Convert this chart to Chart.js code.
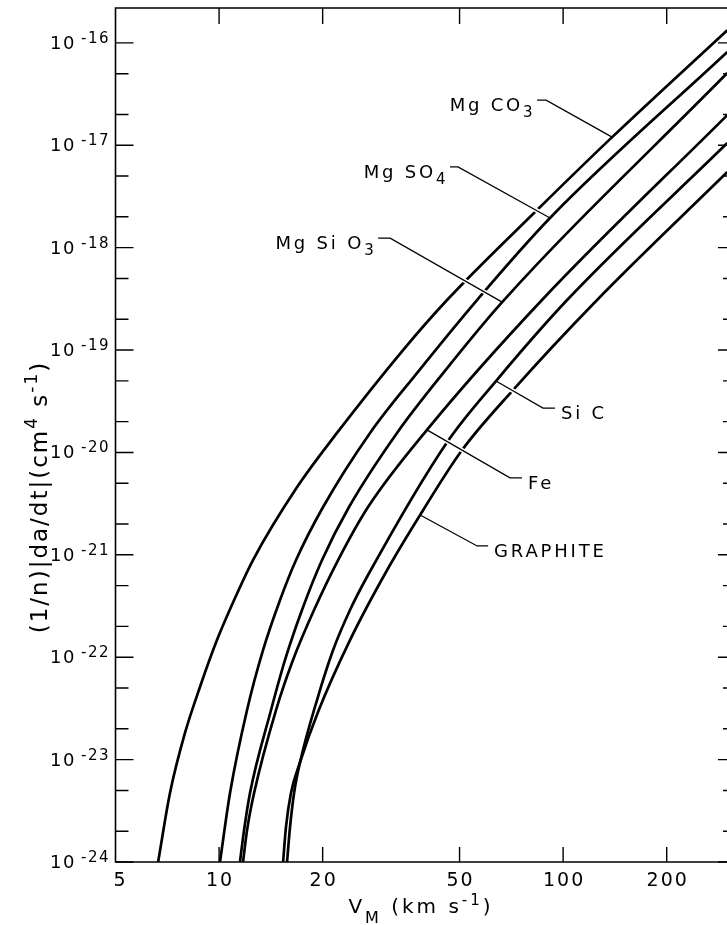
<!DOCTYPE html>
<html><head><meta charset="utf-8">
<script src="https://cdn.jsdelivr.net/npm/chart.js@4.4.0/dist/chart.umd.min.js"></script>
<style>
html,body{margin:0;padding:0;background:#fff;overflow:hidden}
#wrap{position:relative;width:727px;height:925px;overflow:hidden}
canvas{display:block}
</style>
</head><body>
<div id="wrap"><canvas id="c" width="745" height="925"></canvas></div>
<script>
// ---- data ----
const xTickValues = [5, 10, 20, 50, 100, 200];
const yTickExponents = [-24, -23, -22, -21, -20, -19, -18, -17, -16];

const mgco3V = [6.65, 7.20, 7.96, 8.80, 9.86, 11.06, 12.55, 16.86, 22.02, 34.26, 45.99, 84.0, 138.8, 300];
const mgco3Y = [1e-24, 4.72e-24, 1.82e-23, 5.12e-23, 1.47e-22, 3.62e-22, 8.89e-22, 4.59e-21, 1.55e-20, 1.0e-19, 3.08e-19, 2.33e-18, 1.20e-17, 1.33e-16];

const mgso4V = [10.06, 10.76, 12.06, 13.42, 15.04, 16.74, 20.06, 27.47, 37.6, 56.2, 91.6, 300];
const mgso4Y = [1e-24, 4.72e-24, 3.05e-23, 1.17e-22, 3.62e-22, 8.89e-22, 2.93e-21, 1.55e-20, 5.96e-20, 3.08e-19, 1.95e-18, 8.13e-17];

const mgsio3V = [11.50, 11.82, 12.30, 14.16, 15.55, 17.42, 19.92, 23.86, 32.9, 44.8, 66.5, 300];
const mgsio3Y = [1e-24, 2.05e-24, 4.72e-24, 3.05e-23, 9.40e-23, 2.89e-22, 8.89e-22, 2.93e-21, 1.55e-20, 5.96e-20, 2.94e-19, 5.07e-17];

const feV = [11.74, 12.06, 12.64, 14.64, 16.40, 18.88, 22.18, 27.1, 40.2, 86.8, 300];
const feY = [1e-24, 2.05e-24, 4.72e-24, 3.05e-23, 9.40e-23, 2.89e-22, 8.89e-22, 2.93e-21, 1.66e-20, 3.08e-19, 1.97e-17];

const sicV = [15.76, 16.08, 16.52, 17.20, 19.26, 21.44, 24.02, 27.1, 46.0, 63.8, 102.7, 300];
const sicY = [1e-24, 2.20e-24, 4.72e-24, 9.48e-24, 3.82e-23, 1.17e-22, 2.89e-22, 6.35e-22, 1.26e-20, 4.98e-20, 3.08e-19, 1.05e-17];

const graphiteV = [15.35, 15.65, 16.18, 17.20, 19.39, 24.02, 30.8, 38.4, 50.8, 71.5, 125.5, 300];
const graphiteY = [1e-24, 2.20e-24, 4.72e-24, 9.48e-24, 2.92e-23, 1.47e-22, 7.11e-22, 2.45e-21, 1.05e-20, 4.06e-20, 3.08e-19, 5.47e-18];

const seriesNames = ['MgCO3', 'MgSO4', 'MgSiO3', 'Fe', 'SiC', 'GRAPHITE'];
const seriesV = [mgco3V, mgso4V, mgsio3V, feV, sicV, graphiteV];
const seriesY = [mgco3Y, mgso4Y, mgsio3Y, feY, sicY, graphiteY];

const xMin = 5, xMax = 318, yMin = 1e-24, yMax = 2.19e-16;

// label anchors on curves (data coords) and leader geometry
const labelDefs = [
  {runs:[['Mg',0],[' CO',0],['3',1]], v:138.8, y:1.20e-17, elbow:[-66,-37], dash:-9},
  {runs:[['Mg',0],[' SO',0],['4',1]], v:91.6, y:1.95e-18, elbow:[-92,-51], dash:-8},
  {runs:[['Mg',0],[' Si',0],[' O',0],['3',1]], v:66.5, y:2.94e-19, elbow:[-112,-64], dash:-12},
  {runs:[['Si C',0]], v:63.8, y:4.98e-20, elbow:[47,27], dash:12},
  {runs:[['Fe',0]], v:40.2, y:1.66e-20, elbow:[83,48], dash:12},
  {runs:[['GRAPHITE',0]], v:38.4, y:2.45e-21, elbow:[57,31], dash:11}
];

const FONT = '"DejaVu Sans", "Liberation Sans", sans-serif';
function setFont(ctx, size, sp){
  ctx.font = size + 'px ' + FONT;
  if ('letterSpacing' in ctx) ctx.letterSpacing = (sp||0) + 'px';
}
function runsWidth(ctx, runs){
  let w = 0;
  for (const r of runs){ setFont(ctx, r.size, r.sp); w += ctx.measureText(r.t).width; }
  return w;
}
function drawRuns(ctx, runs, x, y){
  let cx = x;
  for (const r of runs){
    setFont(ctx, r.size, r.sp);
    ctx.fillText(r.t, cx, y + (r.dy||0));
    cx += ctx.measureText(r.t).width;
  }
  return cx;
}

const decorPlugin = {
  id: 'decor',
  afterDatasetsDraw(chart){
    const ctx = chart.ctx, a = chart.chartArea, xs = chart.scales.x, ys = chart.scales.y;
    ctx.save();
    ctx.fillStyle = '#000';
    ctx.strokeStyle = '#000';
    ctx.textAlign = 'left';
    ctx.textBaseline = 'alphabetic';

    // leader lines + labels
    for (const d of labelDefs){
      const tx = xs.getPixelForValue(d.v), ty = ys.getPixelForValue(d.y);
      const ex = tx + d.elbow[0], ey = ty + d.elbow[1];
      const dx = ex + d.dash;
      const L = Math.hypot(d.elbow[0], d.elbow[1]);
      const ux = d.elbow[0]/L, uy = d.elbow[1]/L;
      ctx.strokeStyle = '#fff'; ctx.lineWidth = 4.5; ctx.lineCap = 'butt';
      ctx.beginPath(); ctx.moveTo(tx + ux*8, ty + uy*8); ctx.lineTo(ex, ey); ctx.stroke();
      ctx.strokeStyle = '#000'; ctx.lineWidth = 1.3;
      ctx.beginPath(); ctx.moveTo(tx, ty); ctx.lineTo(ex, ey); ctx.lineTo(dx, ey); ctx.stroke();
      const runs = d.runs.map(r => r[1] ? {t:r[0], size:15, sp:1.5, dy:6} : {t:r[0], size:18, sp:2.8, dy:0});
      const w = runsWidth(ctx, runs);
      const bx = d.dash < 0 ? dx - 3 - w : dx + 6;
      drawRuns(ctx, runs, bx, ey + 11);
    }

    // frame
    ctx.strokeStyle = '#000';
    ctx.lineWidth = 1.6;
    ctx.beginPath();
    ctx.moveTo(a.right, a.top); ctx.lineTo(a.left, a.top);
    ctx.lineTo(a.left, a.bottom); ctx.lineTo(a.right, a.bottom);
    ctx.stroke();

    // y ticks (both sides, inward)
    ctx.lineWidth = 1.4;
    for (const e of yTickExponents){
      for (const m of [1, 2, 5]){
        if (m !== 1 && e >= -16) continue;
        const py = ys.getPixelForValue(m * Math.pow(10, e));
        const len = m === 1 ? 18 : 13;
        ctx.beginPath();
        ctx.moveTo(a.left, py); ctx.lineTo(a.left + len, py);
        ctx.moveTo(a.right, py); ctx.lineTo(a.right - len, py);
        ctx.stroke();
      }
    }
    // x ticks (top and bottom, inward)
    for (const v of xTickValues){
      if (v === xMin) continue;
      const px = xs.getPixelForValue(v);
      ctx.beginPath();
      ctx.moveTo(px, a.top); ctx.lineTo(px, a.top + 16);
      ctx.moveTo(px, a.bottom); ctx.lineTo(px, a.bottom - 15);
      ctx.stroke();
    }

    // y tick labels 10^e
    for (const e of yTickExponents){
      const py = ys.getPixelForValue(Math.pow(10, e));
      const sup = String(e);
      setFont(ctx, 15, 1.5);
      const sw = ctx.measureText(sup).width;
      const sx = 110 - sw;
      ctx.fillText(sup, sx, py);
      setFont(ctx, 18, 1.5);
      const bw = ctx.measureText('10').width;
      ctx.fillText('10', sx - 5 - bw, py + 6);
    }
    // x tick labels
    for (const v of xTickValues){
      const px = xs.getPixelForValue(v);
      setFont(ctx, 19, 2);
      const t = String(v);
      const w = ctx.measureText(t).width - 2;
      ctx.fillText(t, px - w/2 + (v === xMin ? 4 : 0), 886);
    }

    // x axis title: V_M (km s^-1)
    const xt = [
      {t:'V', size:20, sp:3, dy:0},
      {t:'M', size:16, sp:3, dy:10},
      {t:' (km s', size:20, sp:3, dy:0},
      {t:'-1', size:15, sp:3, dy:-8},
      {t:')', size:20, sp:3, dy:0}
    ];
    const xw = runsWidth(ctx, xt);
    drawRuns(ctx, xt, 421 - xw/2, 913);

    // y axis title (rotated)
    const yt = [
      {t:'(1/n)|da/dt|(cm', size:23, sp:2, dy:0},
      {t:'4', size:17, sp:2, dy:-10},
      {t:' s', size:23, sp:2, dy:0},
      {t:'-1', size:17, sp:2, dy:-10},
      {t:')', size:23, sp:2, dy:0}
    ];
    const yw = runsWidth(ctx, yt);
    ctx.save();
    ctx.translate(47, 497);
    ctx.rotate(-Math.PI/2);
    drawRuns(ctx, yt, -yw/2, 0);
    ctx.restore();

    ctx.restore();
  }
};

const datasets = seriesNames.map((name, i) => ({
  label: name,
  data: seriesV[i].map((v, j) => ({x: v, y: seriesY[i][j]})),
  showLine: true,
  borderColor: '#000',
  backgroundColor: '#000',
  borderWidth: 2.7,
  pointRadius: 0,
  pointHoverRadius: 0,
  fill: false,
  cubicInterpolationMode: 'monotone'
}));

new Chart(document.getElementById('c'), {
  type: 'scatter',
  data: { datasets },
  options: {
    responsive: false,
    animation: false,
    devicePixelRatio: 1,
    layout: { padding: { left: 115.5, top: 8, right: 9, bottom: 63 } },
    scales: {
      x: { type: 'logarithmic', min: xMin, max: xMax, display: false },
      y: { type: 'logarithmic', min: yMin, max: yMax, display: false }
    },
    plugins: { legend: { display: false }, tooltip: { enabled: false } },
    events: []
  },
  plugins: [decorPlugin]
});
</script>
</body></html>
